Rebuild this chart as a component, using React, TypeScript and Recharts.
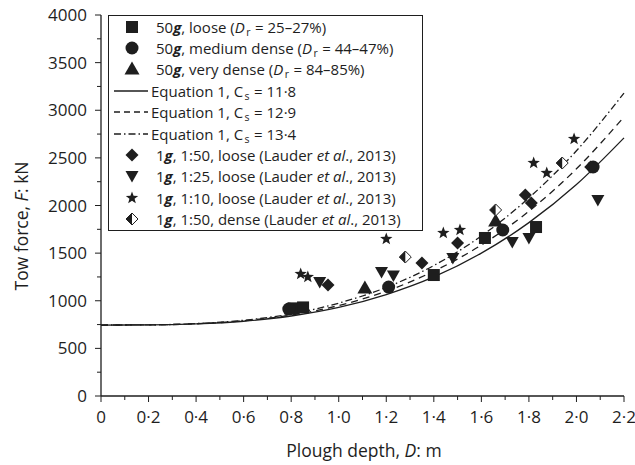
import { ComposedChart, Line, Scatter, XAxis, YAxis, Label } from 'recharts';

// axis ticks (minor + major)
const depthTicks = [0, 0.1, 0.2, 0.3, 0.4, 0.5, 0.6, 0.7, 0.8, 0.9, 1.0, 1.1, 1.2, 1.3, 1.4, 1.5, 1.6, 1.7, 1.8, 1.9, 2.0, 2.1, 2.2];
const forceTicks = [0, 250, 500, 750, 1000, 1250, 1500, 1750, 2000, 2250, 2500, 2750, 3000, 3250, 3500, 3750, 4000];

// Equation 1 curves
const curveDepth = [0, 0.2, 0.4, 0.6, 0.8, 1.0, 1.2, 1.4, 1.6, 1.8, 2.0, 2.2];
const cs118 = [745, 746, 757, 785, 840, 930, 1065, 1250, 1500, 1820, 2220, 2710];
const cs129 = [745, 747, 758, 790, 850, 950, 1100, 1310, 1585, 1940, 2385, 2930];
const cs134 = [745, 747, 760, 795, 862, 975, 1140, 1370, 1680, 2080, 2575, 3180];

// 50g centrifuge tests
const looseDepth = [0.81, 0.85, 1.4, 1.615, 1.83];
const looseForce = [920, 930, 1270, 1659, 1774];
const mediumDepth = [0.79, 1.21, 1.69, 2.07];
const mediumForce = [913, 1144, 1743, 2404];
const veryDenseDepth = [1.11, 1.66];
const veryDenseForce = [1134, 1837];

// 1g tests (Lauder et al., 2013)
const l50LooseDepth = [0.955, 1.35, 1.5, 1.785, 1.81, 2.06];
const l50LooseForce = [1165, 1396, 1606, 2110, 2026, 2404];
const l25LooseDepth = [0.92, 1.18, 1.23, 1.48, 1.73, 1.8, 2.09];
const l25LooseForce = [1197, 1302, 1265, 1449, 1617, 1659, 2058];
const l10LooseDepth = [0.84, 0.87, 1.2, 1.44, 1.51, 1.82, 1.875, 1.99];
const l10LooseForce = [1281, 1249, 1648, 1711, 1743, 2446, 2341, 2698];
const l50DenseDepth = [1.28, 1.66, 1.94];
const l50DenseForce = [1459, 1953, 2446];

const pts = (ds: number[], fs: number[]) => ds.map((d, i) => ({ d, f: fs[i] }));

const INK = '#1e1e1e';
const FONT = '"Open Sans", sans-serif';

const fmt = (v: number) => (v === 0 ? '0' : v.toFixed(1).replace('.', '·'));

const Square = ({ cx, cy }: any) => <rect x={cx - 6} y={cy - 6} width={12} height={12} fill={INK} />;
const Circle = ({ cx, cy }: any) => <circle cx={cx} cy={cy} r={6.5} fill={INK} />;
const TriUp = ({ cx, cy }: any) => (
  <polygon points={`${cx},${cy - 7.5} ${cx + 7.5},${cy + 5.5} ${cx - 7.5},${cy + 5.5}`} fill={INK} />
);
const TriDown = ({ cx, cy }: any) => (
  <polygon points={`${cx - 6.5},${cy - 5} ${cx + 6.5},${cy - 5} ${cx},${cy + 6.5}`} fill={INK} />
);
const Diamond = ({ cx, cy }: any) => (
  <polygon points={`${cx},${cy - 6.5} ${cx + 6.5},${cy} ${cx},${cy + 6.5} ${cx - 6.5},${cy}`} fill={INK} />
);
const HalfDiamond = ({ cx, cy }: any) => (
  <g>
    <polygon points={`${cx},${cy - 6} ${cx + 6},${cy} ${cx},${cy + 6} ${cx - 6},${cy}`} fill="#fff" stroke={INK} strokeWidth={1} />
    <polygon points={`${cx},${cy - 6} ${cx},${cy + 6} ${cx - 6},${cy}`} fill={INK} />
  </g>
);
const Star = ({ cx, cy }: any) => {
  const p: string[] = [];
  for (let k = 0; k < 10; k++) {
    const r = k % 2 === 0 ? 6.5 : 2.7;
    const a = -Math.PI / 2 + (k * Math.PI) / 5;
    p.push(`${cx + r * Math.cos(a)},${cy + r * Math.sin(a)}`);
  }
  return <polygon points={p.join(' ')} fill={INK} />;
};

const XTick = ({ x, y, payload }: any) => {
  const v = payload.value;
  const major = Math.round(v * 10) % 2 === 0;
  return (
    <g>
      <line x1={x} x2={x} y1={y} y2={y + (major ? 6 : 4)} stroke={INK} />
      {major && (
        <text x={x} y={y + 27} textAnchor="middle" fontSize={17} fill={INK} fontFamily={FONT}>
          {fmt(v)}
        </text>
      )}
    </g>
  );
};

const YTick = ({ x, y, payload }: any) => {
  const v = payload.value;
  const major = v % 500 === 0;
  return (
    <g>
      <line x1={x} x2={x - (major ? 6 : 4)} y1={y} y2={y} stroke={INK} />
      {major && (
        <text x={x - 14} y={y + 6} textAnchor="end" fontSize={17} fill={INK} fontFamily={FONT}>
          {v}
        </text>
      )}
    </g>
  );
};

const lineIcon = (dash?: string) => (
  <svg width={42} height={16}>
    <line x1={5} x2={39} y1={8} y2={8} stroke={INK} strokeWidth={1.3} strokeDasharray={dash} />
  </svg>
);
const markIcon = (M: any) => (
  <svg width={47} height={16}>
    <M cx={23} cy={8} />
  </svg>
);

const Sub = ({ t }: { t: string }) => (
  <span style={{ fontSize: 10.5, position: 'relative', top: 3, lineHeight: '8px', marginLeft: 1.5, marginRight: 0.5 }}>{t}</span>
);
const Dr = () => (
  <>
    <i>D</i>
    <Sub t="r" />
  </>
);
const G = () => <b><i>g</i></b>;
const Lauder = () => (
  <>
    (Lauder <i>et al</i>., 2013)
  </>
);

const legendRows: [any, any][] = [
  [markIcon(Square), <>50<G />, loose (<Dr /> = 25–27%)</>],
  [markIcon(Circle), <>50<G />, medium dense (<Dr /> = 44–47%)</>],
  [markIcon(TriUp), <>50<G />, very dense (<Dr /> = 84–85%)</>],
  [lineIcon(), <>Equation 1, C<Sub t="s" /> = 11·8</>],
  [lineIcon('6 4'), <>Equation 1, C<Sub t="s" /> = 12·9</>],
  [lineIcon('7 3 1.5 3'), <>Equation 1, C<Sub t="s" /> = 13·4</>],
  [markIcon(Diamond), <>1<G />, 1:50, loose <Lauder /></>],
  [markIcon(TriDown), <>1<G />, 1:25, loose <Lauder /></>],
  [markIcon(Star), <>1<G />, 1:10, loose <Lauder /></>],
  [markIcon(HalfDiamond), <>1<G />, 1:50, dense <Lauder /></>],
];

const LegendBox = () => (
  <div
    style={{
      position: 'absolute',
      left: 108,
      top: 15,
      width: 315,
      height: 216,
      boxSizing: 'border-box',
      border: `1.3px solid ${INK}`,
      background: '#fff',
      fontFamily: FONT,
      fontSize: 15,
      color: INK,
    }}
  >
    {legendRows.map(([icon, label], i) => (
      <div key={i} style={{ display: 'flex', alignItems: 'center', height: 21.4, lineHeight: '16px', whiteSpace: 'nowrap' }}>
        {icon}
        <span>{label}</span>
      </div>
    ))}
  </div>
);

export default function App() {
  return (
    <div style={{ position: 'absolute', left: 0, top: 0, width: 635, height: 465, background: '#fff', fontFamily: FONT }}>
      <ComposedChart width={635} height={465} margin={{ top: 15, right: 11, bottom: 0, left: 0 }}>
        <XAxis
          type="number"
          dataKey="d"
          domain={[0, 2.2]}
          ticks={depthTicks}
          interval={0}
          tickSize={0}
          tickMargin={0}
          tick={<XTick />}
          tickLine={false}
          axisLine={{ stroke: INK, strokeWidth: 1.3 }}
          height={69}
        >
          <Label
            content={() => (
              <text x={364} y={457} textAnchor="middle" fontSize={17.5} fill={INK} fontFamily={FONT}>
                Plough depth, <tspan fontStyle="italic">D</tspan>: m
              </text>
            )}
          />
        </XAxis>
        <YAxis
          type="number"
          dataKey="f"
          domain={[0, 4000]}
          ticks={forceTicks}
          interval={0}
          tickSize={0}
          tickMargin={0}
          tick={<YTick />}
          tickLine={false}
          axisLine={{ stroke: INK, strokeWidth: 1.3 }}
          width={101}
        >
          <Label
            content={() => (
              <text
                x={28}
                y={226}
                textAnchor="middle"
                fontSize={17.5}
                fill={INK}
                fontFamily={FONT}
                transform="rotate(-90 28 226)"
              >
                Tow force, <tspan fontStyle="italic">F</tspan>: kN
              </text>
            )}
          />
        </YAxis>
        <Line data={pts(curveDepth, cs118)} dataKey="f" type="monotone" stroke={INK} strokeWidth={1.3} dot={false} activeDot={false} isAnimationActive={false} />
        <Line data={pts(curveDepth, cs129)} dataKey="f" type="monotone" stroke={INK} strokeWidth={1.3} strokeDasharray="7 5" dot={false} activeDot={false} isAnimationActive={false} />
        <Line data={pts(curveDepth, cs134)} dataKey="f" type="monotone" stroke={INK} strokeWidth={1.3} strokeDasharray="7 3 1.5 3" dot={false} activeDot={false} isAnimationActive={false} />
        <Scatter data={pts(looseDepth, looseForce)} shape={(p: any) => <Square cx={p.cx} cy={p.cy} />} isAnimationActive={false} />
        <Scatter data={pts(mediumDepth, mediumForce)} shape={(p: any) => <Circle cx={p.cx} cy={p.cy} />} isAnimationActive={false} />
        <Scatter data={pts(veryDenseDepth, veryDenseForce)} shape={(p: any) => <TriUp cx={p.cx} cy={p.cy} />} isAnimationActive={false} />
        <Scatter data={pts(l50LooseDepth, l50LooseForce)} shape={(p: any) => <Diamond cx={p.cx} cy={p.cy} />} isAnimationActive={false} />
        <Scatter data={pts(l25LooseDepth, l25LooseForce)} shape={(p: any) => <TriDown cx={p.cx} cy={p.cy} />} isAnimationActive={false} />
        <Scatter data={pts(l10LooseDepth, l10LooseForce)} shape={(p: any) => <Star cx={p.cx} cy={p.cy} />} isAnimationActive={false} />
        <Scatter data={pts(l50DenseDepth, l50DenseForce)} shape={(p: any) => <HalfDiamond cx={p.cx} cy={p.cy} />} isAnimationActive={false} />
      </ComposedChart>
      <LegendBox />
    </div>
  );
}
